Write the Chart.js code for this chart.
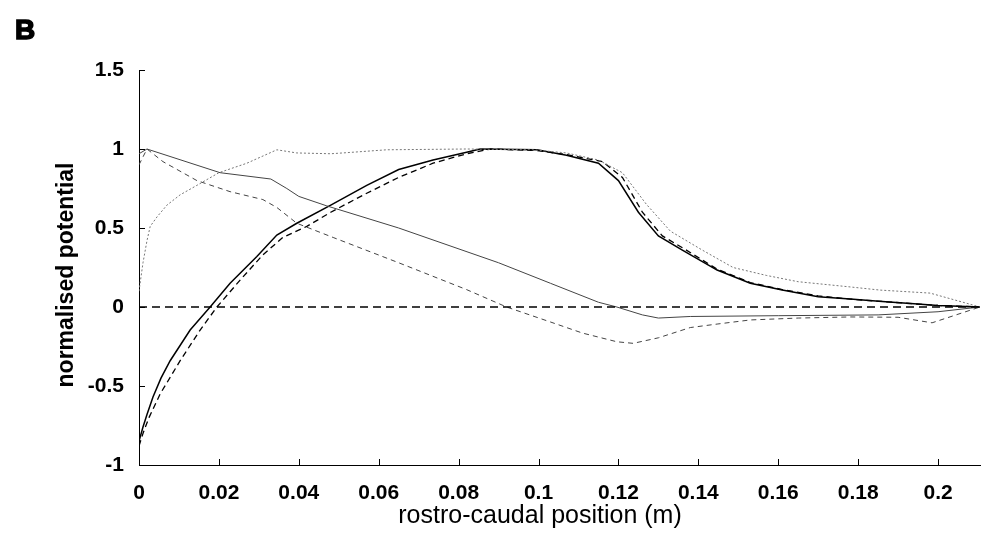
<!DOCTYPE html>
<html>
<head>
<meta charset="utf-8">
<script src="https://cdn.jsdelivr.net/npm/chart.js@4"></script>
<style>
  html, body { margin: 0; padding: 0; background: #fff; }
  #wrap { width: 985px; height: 538px; position: relative; }
</style>
</head>
<body>
<div id="wrap"><canvas id="chart-area"></canvas></div>
<script>
// tick labels
var xTicks = [0, 0.02, 0.04, 0.06, 0.08, 0.1, 0.12, 0.14, 0.16, 0.18, 0.2];
var yTicks = [-1, -0.5, 0, 0.5, 1, 1.5];

// solid black (rising)
var solidX = [0, 0.001, 0.002, 0.0035, 0.0055, 0.0078, 0.0128, 0.0178, 0.0228, 0.0295, 0.0345, 0.0395, 0.048, 0.057, 0.065, 0.0736, 0.082, 0.0854, 0.0996, 0.107, 0.115, 0.12, 0.125, 0.13, 0.136, 0.1447, 0.153, 0.161, 0.170, 0.178, 0.186, 0.194, 0.2, 0.2105];
var solidY = [-0.85, -0.76, -0.68, -0.57, -0.45, -0.34, -0.146, 0, 0.15, 0.32, 0.455, 0.53, 0.645, 0.77, 0.87, 0.93, 0.98, 1.0, 0.995, 0.96, 0.91, 0.8, 0.6, 0.45, 0.36, 0.234, 0.15, 0.107, 0.065, 0.05, 0.035, 0.02, 0.01, 0];

// dashed black (rising)
var dashX = [0, 0.001, 0.0025, 0.0053, 0.0103, 0.0153, 0.0195, 0.0253, 0.031, 0.036, 0.042, 0.048, 0.057, 0.065, 0.0736, 0.082, 0.088, 0.0996, 0.107, 0.116, 0.121, 0.126, 0.131, 0.137, 0.1447, 0.153, 0.161, 0.170, 0.178, 0.186, 0.194, 0.2, 0.2105];
var dashY = [-0.88, -0.8, -0.7, -0.55, -0.34, -0.146, 0, 0.17, 0.33, 0.44, 0.51, 0.60, 0.72, 0.82, 0.91, 0.97, 1.0, 0.99, 0.965, 0.92, 0.82, 0.6, 0.45, 0.36, 0.24, 0.155, 0.11, 0.07, 0.05, 0.035, 0.02, 0.01, 0];

// grey dotted (fast rise)
var dotX = [0, 0.001, 0.002, 0.0028, 0.0045, 0.007, 0.0103, 0.0145, 0.020, 0.027, 0.0345, 0.0395, 0.048, 0.051, 0.062, 0.082, 0.0987, 0.107, 0.115, 0.121, 0.127, 0.133, 0.141, 0.1487, 0.157, 0.165, 0.178, 0.1855, 0.198, 0.2105];
var dotY = [0.1, 0.28, 0.42, 0.51, 0.57, 0.645, 0.71, 0.77, 0.85, 0.91, 0.995, 0.975, 0.97, 0.975, 0.995, 1.0, 0.995, 0.975, 0.93, 0.85, 0.65, 0.48, 0.36, 0.25, 0.2, 0.16, 0.127, 0.107, 0.088, 0];

// grey solid (falling)
var fallX = [0, 0.002, 0.0203, 0.033, 0.037, 0.040, 0.047, 0.065, 0.090, 0.103, 0.115, 0.1196, 0.126, 0.130, 0.138, 0.16, 0.185, 0.2, 0.2105];
var fallY = [0.97, 1.0, 0.85, 0.81, 0.75, 0.70, 0.64, 0.50, 0.28, 0.15, 0.03, 0, -0.05, -0.07, -0.06, -0.055, -0.05, -0.03, 0];

// grey dashed (falling)
var fallDashX = [0, 0.002, 0.006, 0.0145, 0.0228, 0.031, 0.0345, 0.0395, 0.0486, 0.065, 0.082, 0.092, 0.103, 0.111, 0.1196, 0.1237, 0.130, 0.138, 0.1447, 0.153, 0.165, 0.178, 0.19, 0.1985, 0.2105];
var fallDashY = [0.9, 1.0, 0.92, 0.80, 0.73, 0.68, 0.63, 0.53, 0.44, 0.28, 0.11, 0, -0.095, -0.165, -0.22, -0.23, -0.195, -0.13, -0.108, -0.082, -0.07, -0.063, -0.065, -0.1, 0];

// zero reference
var zeroX = [0, 0.2105];
var zeroY = [0, 0];

function pts(xs, ys) {
  var out = [];
  for (var i = 0; i < xs.length; i++) out.push({x: xs[i], y: ys[i]});
  return out;
}

function line(xs, ys, color, width, dash) {
  return {
    data: pts(xs, ys),
    showLine: true,
    borderColor: color,
    borderWidth: width,
    borderDash: dash,
    pointRadius: 0,
    tension: 0,
    fill: false
  };
}

// inward tick marks, panel letter and axis titles
var decor = {
  id: 'decor',
  afterDraw: function(chart) {
    var ctx = chart.ctx;
    var xs = chart.scales.x, ys = chart.scales.y;
    var a = chart.chartArea;
    ctx.save();
    ctx.strokeStyle = '#000';
    ctx.lineWidth = 1;
    ctx.beginPath();
    xTicks.forEach(function(v) {
      var p = Math.round(xs.getPixelForValue(v)) + 0.5;
      ctx.moveTo(p, a.bottom); ctx.lineTo(p, a.bottom - 6);
    });
    yTicks.forEach(function(v) {
      var p = Math.round(ys.getPixelForValue(v)) + 0.5;
      ctx.moveTo(a.left, p); ctx.lineTo(a.left + 6, p);
    });
    ctx.stroke();

    ctx.fillStyle = '#000';
    ctx.font = 'bold 28px "Liberation Sans", Arial, sans-serif';
    ctx.textAlign = 'left';
    ctx.textBaseline = 'alphabetic';
    ctx.lineWidth = 1.5;
    ctx.fillText('B', 15, 39);
    ctx.strokeText('B', 15, 39);

    ctx.font = '25px "Liberation Sans", Arial, sans-serif';
    ctx.textAlign = 'center';
    ctx.textBaseline = 'middle';
    ctx.fillText('rostro-caudal position (m)', 540, 516);

    ctx.translate(67, 275);
    ctx.rotate(-Math.PI / 2);
    ctx.font = 'bold 23px "Liberation Sans", Arial, sans-serif';
    ctx.fillText('normalised potential', 0, 0);
    ctx.restore();
  }
};

var tickFont = {family: '"Liberation Sans", Arial, sans-serif', size: 21, weight: 'bold'};

var config = {
  type: 'scatter',
  data: {
    datasets: [
      line(zeroX, zeroY, '#000', 1.5, [8, 5]),
      line(fallX, fallY, '#444', 1, []),
      line(fallDashX, fallDashY, '#444', 1, [5, 4]),
      line(dotX, dotY, '#777', 1, [2, 2]),
      line(dashX, dashY, '#000', 1.3, [6, 4]),
      line(solidX, solidY, '#000', 1.5, [])
    ]
  },
  options: {
    responsive: false,
    animation: false,
    layout: {padding: {left: 0, right: 5, top: 70, bottom: 0}},
    plugins: {legend: {display: false}, tooltip: {enabled: false}},
    scales: {
      x: {
        type: 'linear',
        min: 0,
        max: 0.2105,
        grid: {display: false},
        border: {display: true, color: '#000', width: 1},
        ticks: {
          includeBounds: false,
          stepSize: 0.02,
          color: '#000',
          font: tickFont,
          padding: 8,
          maxRotation: 0,
          autoSkip: false,
          callback: function(v) { return String(Number(v.toFixed(2))); }
        },
        afterFit: function(s) { s.height = 73; }
      },
      y: {
        type: 'linear',
        min: -1,
        max: 1.5,
        grid: {display: false},
        border: {display: true, color: '#000', width: 1},
        ticks: {
          stepSize: 0.5,
          color: '#000',
          font: tickFont,
          padding: 7,
          callback: function(v) { return String(Number(v.toFixed(1))); }
        },
        afterFit: function(s) { s.width = 139; }
      }
    }
  },
  plugins: [decor]
};

var canvas = document.getElementById('chart-area');
canvas.width = 985;
canvas.height = 538;
window.myChart = new Chart(canvas.getContext('2d'), config);
</script>
</body>
</html>
